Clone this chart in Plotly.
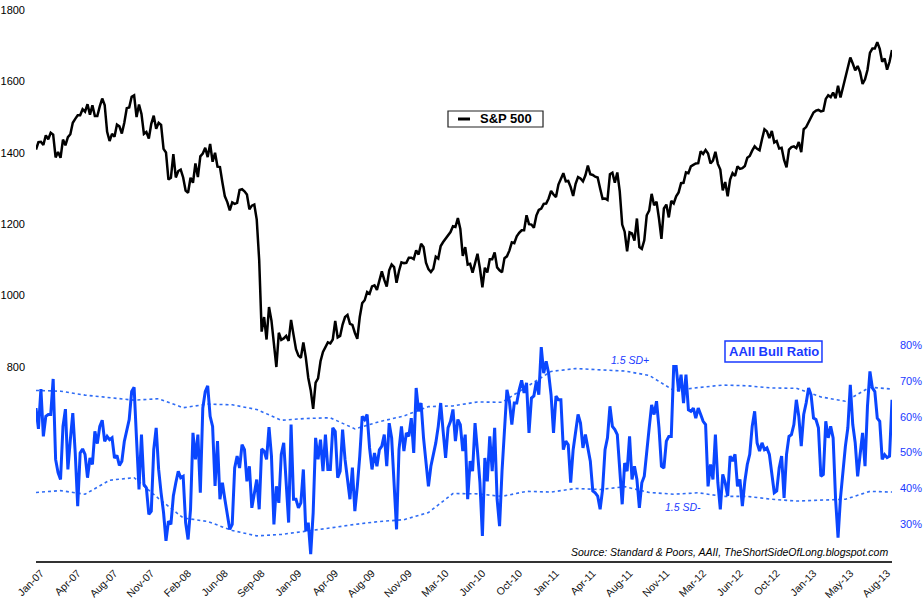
import pandas as pd
import plotly.graph_objects as go

# ---------------- data ----------------
spx_2007 = [1409, 1430, 1431, 1422, 1449, 1438, 1456, 1451, 1387, 1402, 1386, 1437, 1421,
            1444, 1452, 1484, 1495, 1505, 1505, 1522, 1515, 1536, 1507, 1533, 1503, 1503,
            1530, 1552, 1534, 1459, 1433, 1453, 1445, 1479, 1474, 1454, 1484, 1525, 1527,
            1557, 1561, 1500, 1535, 1509, 1453, 1458, 1440, 1481, 1504, 1467, 1484, 1478]
spx_2008 = [1411, 1401, 1325, 1330, 1396, 1331, 1349, 1353, 1331, 1294, 1288, 1330, 1316,
            1370, 1332, 1390, 1398, 1414, 1388, 1425, 1375, 1400, 1361, 1360, 1317, 1278,
            1262, 1239, 1261, 1257, 1260, 1296, 1298, 1292, 1283, 1242, 1252, 1255, 1213,
            1099, 899, 940, 877, 968, 930, 873, 800, 896, 876, 880, 887, 873]
spx_2009 = [932, 890, 850, 832, 826, 869, 827, 770, 735, 683, 756, 768, 816,
            842, 856, 869, 866, 877, 929, 883, 887, 919, 940, 946, 921, 918,
            896, 879, 940, 979, 987, 1010, 1005, 1026, 1029, 1016, 1042, 1068, 1044,
            1025, 1071, 1087, 1080, 1036, 1069, 1093, 1091, 1092, 1106, 1106, 1102, 1127]
spx_2010 = [1115, 1145, 1136, 1092, 1074, 1066, 1075, 1109, 1104, 1139, 1150, 1160, 1167,
            1178, 1194, 1192, 1217, 1187, 1111, 1136, 1087, 1089, 1064, 1092, 1117, 1076,
            1023, 1078, 1065, 1102, 1102, 1121, 1079, 1071, 1065, 1105, 1110, 1126, 1149,
            1147, 1166, 1176, 1183, 1183, 1225, 1200, 1199, 1190, 1224, 1240, 1244, 1257, 1258]
spx_2011 = [1272, 1293, 1283, 1276, 1311, 1329, 1343, 1320, 1321, 1304, 1279, 1313,
            1332, 1328, 1320, 1337, 1364, 1340, 1338, 1333, 1331, 1300, 1271, 1272, 1268,
            1340, 1344, 1316, 1345, 1292, 1199, 1179, 1124, 1177, 1174, 1154, 1216, 1136, 1131,
            1155, 1225, 1238, 1285, 1253, 1263, 1216, 1159, 1244, 1255, 1219, 1265, 1258]
spx_2012 = [1278, 1289, 1315, 1316, 1345, 1343, 1362, 1366, 1370, 1371, 1404, 1397, 1408,
            1398, 1370, 1378, 1403, 1369, 1353, 1295, 1318, 1278, 1325, 1343, 1335, 1362,
            1355, 1357, 1363, 1386, 1391, 1406, 1418, 1411, 1407, 1438, 1466, 1460, 1441,
            1461, 1429, 1433, 1412, 1414, 1380, 1359, 1409, 1416, 1418, 1413, 1430, 1402]
spx_2013 = [1466, 1472, 1486, 1503, 1513, 1518, 1520, 1516, 1518, 1551, 1561, 1556, 1569,
            1553, 1588, 1555, 1582, 1614, 1633, 1667, 1650, 1631, 1643, 1626, 1593, 1606,
            1632, 1680, 1692, 1692, 1710, 1691, 1655, 1664, 1633, 1655, 1688]
spx = spx_2007 + spx_2008 + spx_2009 + spx_2010 + spx_2011 + spx_2012 + spx_2013

aaii_bull_ratio = [
    62.4, 56.6, 67.7, 54.5, 60.1, 60.6, 60.6, 70.5, 48.1, 44.4,
    42.5, 57.3, 62.1, 45.3, 53.6, 61.0, 49.9, 35.1, 49.9, 51.0,
    49.5, 43.0, 48.5, 46.7, 55.9, 52.5, 57.3, 59.0, 53.1, 54.5,
    53.6, 54.1, 48.5, 49.2, 46.4, 47.6, 53.1, 55.9, 59.2, 67.0,
    68.2, 53.6, 39.7, 55.0, 41.1, 40.2, 32.8, 33.7, 50.8, 56.9,
    45.3, 38.8, 33.3, 25.4, 30.9, 30.0, 37.9, 41.6, 44.8, 43.0,
    43.4, 30.5, 25.8, 34.2, 55.5, 48.1, 55.0, 38.8, 62.4, 67.0,
    68.6, 60.1, 57.3, 40.7, 53.2, 37.0, 41.6, 37.0, 32.3, 28.6,
    30.0, 45.7, 49.0, 45.7, 52.2, 50.8, 42.0, 46.2,
    34.6, 39.0, 42.5, 34.2, 51.0, 50.4, 48.1, 57.1, 49.0, 30.0,
    40.6, 36.0, 49.5, 52.7, 39.7, 30.5, 57.8, 37.0, 37.0, 34.6,
    36.0, 45.3, 28.1, 30.5, 21.7, 33.2, 54.1, 48.1, 53.6, 44.8,
    55.0, 45.3, 45.3, 56.9, 55.9, 43.0, 44.8, 56.4, 48.1, 42.5,
    37.0, 45.8, 33.7, 40.6, 49.0, 60.1, 59.2, 60.6, 51.3, 45.3,
    49.9, 46.2, 50.8, 51.8, 55.0, 46.2, 58.2, 54.1, 41.6, 28.6,
    50.8, 57.3, 50.4, 55.5, 54.5, 59.6, 49.9, 68.0, 61.5, 63.8,
    54.1, 48.1, 40.6, 46.2, 49.5, 52.7, 57.3, 63.8, 55.9, 48.5,
    56.9, 58.7, 62.0, 53.2, 59.2, 57.8, 50.4,
    55.0, 37.0, 47.6, 44.8, 58.2, 50.4, 41.6, 26.8, 48.5, 42.0,
    54.5, 44.8, 56.9, 37.0, 29.5, 44.8, 57.3, 67.5, 64.3, 57.8,
    63.8, 63.8, 67.5, 70.1, 66.6, 69.4, 55.5, 65.2, 65.8, 69.8,
    66.1, 79.4, 72.1, 75.4, 72.1, 66.1, 55.5, 65.7, 64.7, 64.7,
    50.8, 53.2, 52.2, 41.6, 50.8, 55.5, 60.6, 58.2, 51.3, 55.0,
    50.8, 47.6, 39.3, 38.8, 37.9, 34.2, 39.7, 50.8, 54.1, 62.9,
    57.3, 56.4, 55.0, 45.3, 35.6, 47.1, 44.8, 54.5, 42.5, 46.2,
    42.5, 34.6, 41.6, 43.4, 50.8, 56.9, 63.3, 60.6, 64.3, 56.9,
    46.2, 45.7, 53.2, 54.5, 54.5,
    74.0, 74.0, 67.0, 71.7, 63.8, 71.7, 61.9, 61.5, 62.4, 59.6,
    62.4, 60.6, 58.7, 57.8, 40.6, 46.7, 42.5, 55.0, 41.6, 34.2,
    43.9, 41.6, 37.9, 49.0, 47.6, 49.5, 40.6, 42.5, 35.1, 42.0,
    46.7, 49.5, 57.3, 61.5, 52.7, 50.4, 52.7, 50.8, 51.3, 49.5,
    44.4, 38.8, 39.3, 45.7, 49.0, 37.4, 49.5, 54.5, 55.0, 57.8,
    64.7, 60.1, 51.8, 60.6, 63.8, 68.0, 66.1, 59.6, 59.2, 56.9,
    43.4, 43.9, 58.7, 54.1, 57.3, 54.1, 37.0, 26.3, 37.4, 44.8,
    51.8, 56.9, 68.9, 57.8, 52.7, 43.4, 49.9, 55.5, 46.2, 62.9,
    72.6, 68.0, 67.0, 59.6, 58.7, 48.1, 49.4, 48.6, 49.0, 64.7,
]

# 1.5 standard-deviation bands, read every 10 weeks (+ last week)
band_upper = [67.3, 67.1, 66.0, 65.3, 64.6, 65.0, 62.5, 63.5, 63.3, 62.0,
              59.0, 59.5, 59.7, 56.6, 58.6, 60.2, 62.8, 63.0, 64.1, 64.0,
              68.3, 72.6, 73.4, 73.1, 72.7, 71.5, 67.3, 68.1, 68.8, 68.6,
              68.0, 67.9, 65.5, 64.3, 68.2, 67.7]
band_lower = [38.9, 39.4, 38.4, 42.3, 43.0, 37.2, 31.8, 30.8, 28.3, 26.8,
              27.2, 28.0, 29.0, 30.0, 30.8, 31.3, 33.3, 38.6, 38.5, 37.8,
              39.2, 39.0, 40.0, 39.7, 40.5, 38.9, 38.4, 38.8, 37.8, 37.8,
              37.0, 36.5, 36.8, 37.0, 39.2, 39.0]

x_tick_labels = ["Jan-07", "Apr-07", "Aug-07", "Nov-07", "Feb-08", "Jun-08", "Sep-08",
                 "Jan-09", "Apr-09", "Aug-09", "Nov-09", "Mar-10", "Jun-10", "Oct-10",
                 "Jan-11", "Apr-11", "Aug-11", "Nov-11", "Mar-12", "Jun-12", "Oct-12",
                 "Jan-13", "May-13", "Aug-13"]
left_ticks = [800, 1000, 1200, 1400, 1600, 1800]
right_ticks = [30, 40, 50, 60, 70, 80]

# ---------------- build ----------------
dates = pd.date_range("2007-01-05", periods=len(spx), freq="W-FRI")
band_dates = list(dates[::10]) + [dates[-1]]
tick_dates = list(dates[2::15])[:len(x_tick_labels)]

BLUE = "#0a46ff"
BAND = "#2f6cf5"
TXTBLUE = "#1a3aff"

fig = go.Figure()
fig.add_trace(go.Scatter(x=band_dates, y=band_upper, yaxis="y2", mode="lines",
                         line=dict(color=BAND, width=1.6, dash="dot"), showlegend=False))
fig.add_trace(go.Scatter(x=band_dates, y=band_lower, yaxis="y2", mode="lines",
                         line=dict(color=BAND, width=1.6, dash="dot"), showlegend=False))
fig.add_trace(go.Scatter(x=dates, y=aaii_bull_ratio, yaxis="y2", mode="lines",
                         line=dict(color=BLUE, width=3), showlegend=False))
fig.add_trace(go.Scatter(x=dates, y=spx, yaxis="y", mode="lines",
                         line=dict(color="black", width=2.5), showlegend=False))

fig.update_layout(
    width=924, height=604,
    margin=dict(l=36, r=32, t=2, b=43),
    paper_bgcolor="white", plot_bgcolor="white",
    xaxis=dict(type="date", range=[dates[0], dates[-1]],
               tickvals=tick_dates, ticktext=x_tick_labels, tickangle=-45,
               tickfont=dict(family="Liberation Sans", size=10.5, color="#111"),
               showgrid=False, zeroline=False, showline=True,
               linecolor="#333", linewidth=2, ticks=""),
    yaxis=dict(range=[256.6, 1822.4], tickvals=left_ticks,
               tickfont=dict(family="Liberation Sans", size=11, color="black"),
               showgrid=False, zeroline=False, showline=False, ticks="",
               ticklabelstandoff=10),
    yaxis2=dict(range=[19.8, 175.5], overlaying="y", side="right",
                tickvals=right_ticks, ticktext=[f"{v}%" for v in right_ticks],
                tickfont=dict(family="Liberation Sans", size=11, color=TXTBLUE),
                showgrid=False, zeroline=False, showline=False, ticks="",
                ticklabelstandoff=7),
    shapes=[
        dict(type="rect", xref="paper", yref="paper", x0=0.4813, x1=0.5923,
             y0=0.7764, y1=0.8050, line=dict(color="#222", width=1.2), fillcolor="white"),
        dict(type="line", xref="paper", yref="paper", x0=0.4930, x1=0.5070,
             y0=0.7907, y1=0.7907, line=dict(color="black", width=3)),
        dict(type="rect", xref="paper", yref="paper", x0=0.8049, x1=0.9182,
             y0=0.3560, y1=0.3936, line=dict(color=TXTBLUE, width=1.5), fillcolor="white"),
    ],
    annotations=[
        dict(text="<b>S&P 500</b>", xref="paper", yref="paper", x=0.5485, y=0.7907,
             xanchor="center", yanchor="middle",
             showarrow=False, font=dict(family="Liberation Sans", size=13, color="black")),
        dict(text="<b>AAII Bull Ratio</b>", xref="paper", yref="paper", x=0.8616, y=0.3748,
             xanchor="center", yanchor="middle",
             showarrow=False, font=dict(family="Liberation Sans", size=13, color=TXTBLUE)),
        dict(text="<i>1.5 SD+</i>", xref="paper", yref="paper", x=0.694, y=0.3596,
             xanchor="center", yanchor="middle",
             showarrow=False, font=dict(family="Liberation Sans", size=10.5, color=TXTBLUE)),
        dict(text="<i>1.5 SD-</i>", xref="paper", yref="paper", x=0.7558, y=0.0966,
             xanchor="center", yanchor="middle",
             showarrow=False, font=dict(family="Liberation Sans", size=10.5, color=TXTBLUE)),
        dict(text="<i>Source: Standard & Poors, AAII, TheShortSideOfLong.blogspot.com</i>",
             xref="paper", yref="paper", x=0.9977, y=0.0161, xanchor="right", yanchor="middle",
             showarrow=False, font=dict(family="Liberation Sans", size=10.5, color="black")),
    ],
)

fig.write_html("out.html", config={"displayModeBar": False},
               post_script="document.body.style.margin='0';document.body.style.padding='0';")
